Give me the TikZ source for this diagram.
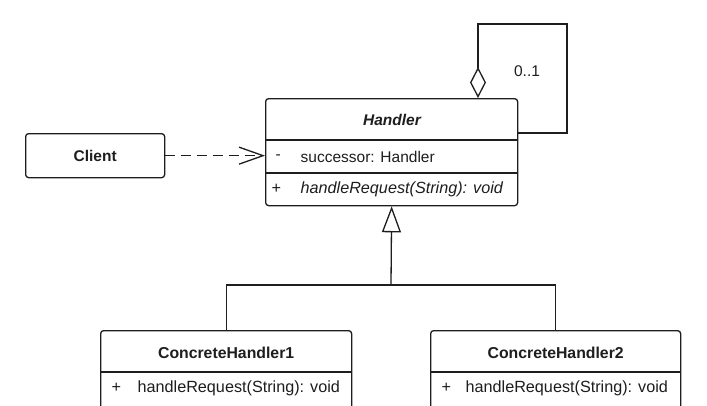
\documentclass[tikz,border=0pt]{standalone}
\usepackage{fontspec}
\setmainfont{Liberation Sans}
\usetikzlibrary{arrows.meta}
\definecolor{ink}{HTML}{1E1E1E}
\begin{document}
\begin{tikzpicture}[x=1pt,y=-1pt, line width=1.3pt, draw=ink, text=ink,
  cls/.style={draw=ink, rounded corners=3pt, inner sep=0pt, anchor=north west},
  lbl/.style={font=\fontsize{15.5}{18}\selectfont, inner sep=0pt},
  oplbl/.style={font=\fontsize{16.2}{18}\selectfont, inner sep=0pt},
  dep/.style={dash pattern=on 10pt off 6pt, -{Straight Barb[length=24pt,width=17pt,line width=1.3pt]}},
  gen/.style={-{Triangle[open,length=26pt,width=19pt,line width=1.3pt]}},
  agg/.style={{Diamond[open,length=31pt,width=16pt,line width=1.3pt]}-}]
\useasboundingbox (0,0) rectangle (707,405);
\clip (0,0) rectangle (707,405);
\fill[white] (0,0) rectangle (707,405);

% Handler
\node[cls, minimum width=252pt, minimum height=107pt] (handler) at (265,98) {};
\draw ([yshift=-42pt]handler.north west) -- ([yshift=-42pt]handler.north east);
\draw ([yshift=-75pt]handler.north west) -- ([yshift=-75pt]handler.north east);
\node[lbl, font=\fontsize{15.5}{18}\selectfont\bfseries\itshape] (hname) at (392,120) {Handler};
\node[lbl, anchor=west] (hminus) at (275,157) {-};
\node[lbl, anchor=west] (hattr) at (300,157) {successor: Handler};
\node[oplbl, anchor=west] (hplus) at (271,189) {+};
\node[oplbl, anchor=west, font=\fontsize{16.2}{18}\selectfont\itshape] (hop) at (300,189) {handleRequest(String): void};

% self aggregation
\coordinate (dtip) at (478,98);
\coordinate (l1) at (478,24);
\coordinate (l2) at (567,24);
\coordinate (l3) at (567,133);
\coordinate (rend) at (517,133);
\draw[agg] (dtip) -- (l1) -- (l2) -- (l3) -- (rend);
\node[lbl] (mult) at (527,71) {0..1};

% Client
\node[cls, minimum width=139pt, minimum height=44pt, font=\fontsize{15.5}{18}\selectfont\bfseries] (client) at (25,133) {Client};
\draw[dep] (client.east) -- (client.east -| handler.west);

% Concrete handlers
\node[cls, minimum width=251pt, minimum height=90pt] (ch1) at (100,330) {};
\draw ([yshift=-42pt]ch1.north west) -- ([yshift=-42pt]ch1.north east);
\node[lbl, font=\fontsize{15.8}{18}\selectfont\bfseries] (ch1name) at (ch1.north |- 0,353) {ConcreteHandler1};
\node[oplbl, anchor=west] (ch1plus) at (111,388) {+};
\node[oplbl, anchor=west] (ch1op) at (137,388) {handleRequest(String): void};

\node[cls, minimum width=250pt, minimum height=90pt] (ch2) at (430,330) {};
\draw ([yshift=-42pt]ch2.north west) -- ([yshift=-42pt]ch2.north east);
\node[lbl, font=\fontsize{15.8}{18}\selectfont\bfseries] (ch2name) at (ch2.north |- 0,353) {ConcreteHandler2};
\node[oplbl, anchor=west] (ch2plus) at (441,388) {+};
\node[oplbl, anchor=west] (ch2op) at (465,388) {handleRequest(String): void};

% generalization
\coordinate (gj) at (391,285);
\draw[gen] (gj) -- (handler.south);
\draw (ch1.north) -- (ch1.north |- gj) -- (ch2.north |- gj) -- (ch2.north);
\end{tikzpicture}
\end{document}
